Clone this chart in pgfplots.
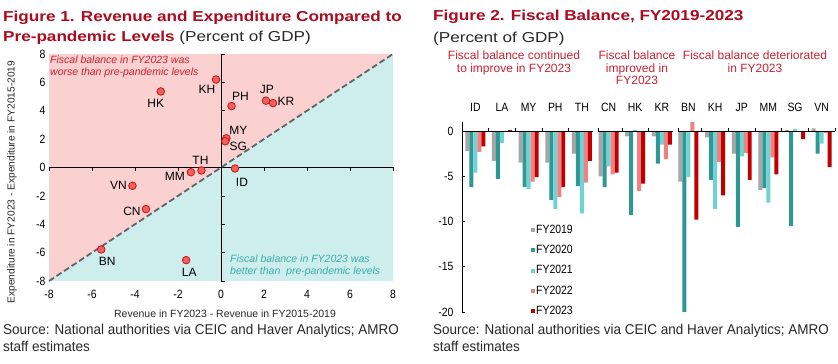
\documentclass[border=0pt]{standalone}
\usepackage{pgfplots}
\pgfplotsset{compat=1.18}
\usepackage{pgfplotstable}
\usepackage{fontspec}
\setmainfont{Liberation Sans}
\newfontfamily\narrow{Liberation Sans}[FakeStretch=0.87]
\newfontfamily\srcfont{Liberation Sans}[FakeStretch=0.95]
\newfontfamily\wide{Liberation Sans}[FakeStretch=1.19]
\definecolor{titlered}{RGB}{172,10,30}
\definecolor{annred}{RGB}{204,32,48}
\definecolor{annteal}{RGB}{58,172,170}
\definecolor{pinkbg}{RGB}{250,208,208}
\definecolor{cyanbg}{RGB}{206,238,238}
\definecolor{mkfill}{RGB}{240,96,96}
\definecolor{mkdraw}{RGB}{200,20,20}
\definecolor{cA}{RGB}{166,166,166}
\definecolor{cB}{RGB}{46,152,150}
\definecolor{cC}{RGB}{112,210,210}
\definecolor{cD}{RGB}{242,128,128}
\definecolor{cE}{RGB}{192,0,0}
\definecolor{txt}{RGB}{40,40,40}

\pgfplotstableread{
x y lbl dx dy
-2.80 5.36 HK -5 -12
-0.23 6.20 KH -9 -10
0.49 4.33 PH 9 10
2.09 4.71 JP 1 11
2.42 4.54 KR 13 2
0.25 2.06 MY 12 8
0.20 1.85 SG 13 -5
-0.91 -0.21 TH -1 10
-1.40 -0.33 MM -16 -4
0.65 -0.07 ID 7 -14
-4.12 -1.29 VN -14 0
-3.49 -2.93 CN -14 -2
-5.57 -5.78 BN 6 -12
-1.62 -6.53 LA 3 -12
}\pts

\begin{document}
\begin{tikzpicture}
\path[use as bounding box] (0,0) rectangle (838pt,364pt);

% ---------- Figure 1 ----------
\begin{axis}[at={(49pt,83pt)}, anchor=south west, scale only axis,
  width=344pt, height=227pt, xmin=-8, xmax=8, ymin=-8, ymax=8,
  xtick={-8,-6,...,8}, ytick={-8,-6,...,8},
  axis line style={draw=none}, major tick length=0pt, clip=false,
  tick label style={font=\narrow\fontsize{12}{14}\selectfont},
  /pgf/number format/assume math mode=true,
  xticklabel style={yshift=-6pt}]
\addplot[draw=none, fill=pinkbg] coordinates {(-8,-8) (-8,8) (8,8)} -- cycle;
\addplot[draw=none, fill=cyanbg] coordinates {(-8,-8) (8,-8) (8,8)} -- cycle;
\draw[black, line width=0.7pt] (axis cs:-8,0) -- (axis cs:8,0);
\draw[black, line width=0.7pt] (axis cs:0,-8) -- (axis cs:0,8);
\pgfplotsinvokeforeach{-8,-6,-4,-2,2,4,6,8}{
  \draw[black, line width=0.7pt] (axis cs:#1,0) -- ([yshift=-4pt]axis cs:#1,0);
  \draw[black, line width=0.7pt] (axis cs:0,#1) -- ([xshift=4pt]axis cs:0,#1);
}
\addplot[draw={rgb,255:red,100;green,100;blue,100}, line width=1.8pt, dash pattern=on 6pt off 3pt] coordinates {(-8,-8) (8,8)};
\addplot[only marks, mark=*, mark size=3.8pt,
  mark options={fill=mkfill, draw=mkdraw, line width=0.8pt},
  point meta=explicit symbolic, nodes near coords,
  visualization depends on={\thisrow{dx}\as\dx},
  visualization depends on={\thisrow{dy}\as\dy},
  nodes near coords style={anchor=center, xshift=\dx, yshift=\dy,
    font=\fontsize{12}{14}\selectfont, text=black, inner sep=0pt}]
  table[x=x, y=y, meta=lbl]{\pts};
\end{axis}

\node[anchor=base west, text=titlered, font=\wide\bfseries\fontsize{14.4}{16}\selectfont, inner sep=0pt] at (3pt,342pt) {Figure 1. Revenue and Expenditure Compared to};
\node[anchor=base west, text=txt, font=\wide\fontsize{14.4}{16}\selectfont, inner sep=0pt] at (3pt,322pt) {\textcolor{titlered}{\bfseries Pre-pandemic Levels} (Percent of GDP)};
\node[anchor=base west, text=annred, font=\itshape\fontsize{10.5}{12}\selectfont, inner sep=0pt] at (50pt,300pt) {Fiscal balance in FY2023 was};
\node[anchor=base west, text=annred, font=\itshape\fontsize{10.5}{12}\selectfont, inner sep=0pt] at (50pt,288pt) {worse than pre-pandemic levels};
\node[anchor=base west, text=annteal, font=\itshape\fontsize{10.5}{12}\selectfont, inner sep=0pt] at (230pt,101pt) {Fiscal balance in FY2023 was};
\node[anchor=base west, text=annteal, font=\itshape\fontsize{10.5}{12}\selectfont, inner sep=0pt] at (230pt,89pt) {better than\ \ pre-pandemic levels};
\node[rotate=90, text=txt, font=\fontsize{10.2}{12}\selectfont, inner sep=0pt] at (12pt,182pt) {Expenditure in FY2023 - Expenditure in FY2015-2019};
\node[text=txt, font=\fontsize{10.5}{12}\selectfont, inner sep=0pt] at (225pt,50pt) {Revenue in FY2023 - Revenue in FY2015-2019};
\node[anchor=base west, text=txt, font=\srcfont\fontsize{14.2}{16}\selectfont, inner sep=0pt] at (3pt,29pt) {Source: National authorities via CEIC and Haver Analytics; AMRO};
\node[anchor=base west, text=txt, font=\srcfont\fontsize{14.2}{16}\selectfont, inner sep=0pt] at (3pt,12pt) {staff estimates};

% ---------- Figure 2 ----------
\begin{axis}[at={(462pt,52pt)}, anchor=south west, scale only axis,
  width=373pt, height=190pt, xmin=-0.5, xmax=13.5, ymin=-20, ymax=1,
  ytick={0,-5,-10,-15,-20}, xtick={0,...,13},
  xticklabels={ID,LA,MY,PH,TH,CN,HK,KR,BN,KH,JP,MM,SG,VN},
  xticklabel pos=upper,
  axis line style={draw=none}, major tick length=0pt, clip=false,
  tick label style={font=\narrow\fontsize{12}{14}\selectfont},
  /pgf/number format/assume math mode=true,
  yticklabel style={xshift=-5pt},
  xticklabel style={anchor=base, yshift=10pt},
  legend style={at={(0.185,0.465)}, anchor=north west, draw=none, fill=none,
    font=\narrow\fontsize{12}{14}\selectfont, row sep=8.5pt, inner sep=0pt,
    nodes={inner sep=1pt}},
  legend cell align=left]
\addplot[ybar, bar width=0.15, bar shift=-0.3, fill=cA, draw=none,
  legend image code/.code={\fill[cA] (0pt,-2pt) rectangle (4pt,2pt);}] coordinates {
 (0,-2.2) (1,-3.3) (2,-3.5) (3,-3.5) (4,-2.5) (5,-5.0) (6,-0.6) (7,-0.6)
 (8,-5.6) (9,-0.7) (10,-2.5) (11,-6.5) (12,0.1) (13,0.3)};
\addlegendentry{FY2019}
\addplot[ybar, bar width=0.15, bar shift=-0.15, fill=cB, draw=none,
  legend image code/.code={\fill[cB] (0pt,-2pt) rectangle (4pt,2pt);}] coordinates {
 (0,-6.2) (1,-5.3) (2,-6.2) (3,-7.6) (4,-6.1) (5,-6.2) (6,-9.3) (7,-3.6)
 (8,-20.0) (9,-5.4) (10,-10.6) (11,-6.3) (12,-10.5) (13,-2.5)};
\addlegendentry{FY2020}
\addplot[ybar, bar width=0.15, bar shift=0, fill=cC, draw=none,
  legend image code/.code={\fill[cC] (0pt,-2pt) rectangle (4pt,2pt);}] coordinates {
 (0,-4.6) (1,-1.3) (2,-6.4) (3,-8.6) (4,-9.1) (5,-3.9) (6,0.1) (7,-1.5)
 (8,-5.1) (9,-8.6) (10,-2.8) (11,-7.9) (12,0.2) (13,-1.4)};
\addlegendentry{FY2021}
\addplot[ybar, bar width=0.15, bar shift=0.15, fill=cD, draw=none,
  legend image code/.code={\fill[cD] (0pt,-2pt) rectangle (4pt,2pt);}] coordinates {
 (0,-2.3) (1,-0.1) (2,-5.6) (3,-7.3) (4,-5.7) (5,-4.8) (6,-6.6) (7,-3.1)
 (8,1.0) (9,-3.4) (10,-2.4) (11,-2.9) (12,0.0) (13,-0.2)};
\addlegendentry{FY2022}
\addplot[ybar, bar width=0.15, bar shift=0.3, fill=cE, draw=none,
  legend image code/.code={\fill[cE] (0pt,-2pt) rectangle (4pt,2pt);}] coordinates {
 (0,-1.7) (1,0.1) (2,-5.1) (3,-6.2) (4,-3.3) (5,-4.6) (6,-5.8) (7,-1.5)
 (8,-9.8) (9,-7.1) (10,-5.4) (11,-4.8) (12,-0.9) (13,-4.0)};
\addlegendentry{FY2023}
\draw[black, line width=0.7pt] (axis cs:-0.5,-20) -- (axis cs:-0.5,1);
\pgfplotsinvokeforeach{0,-5,-10,-15,-20}{
  \draw[black, line width=0.7pt] (axis cs:-0.5,#1) -- ([xshift=3pt]axis cs:-0.5,#1);
}
\draw[black, line width=0.7pt] (axis cs:-0.5,0) -- (axis cs:4.42,0);
\draw[black, line width=0.7pt] (axis cs:4.62,0) -- (axis cs:7.42,0);
\draw[black, line width=0.7pt] (axis cs:7.62,0) -- (axis cs:13.5,0);
\pgfplotsinvokeforeach{0.5,1.5,2.5,3.5,4.62,5.5,6.5,7.62,8.5,9.5,10.5,11.5,12.5,13.5}{
  \draw[black, line width=0.7pt] (axis cs:#1,0) -- ([yshift=3pt]axis cs:#1,0);
}
\end{axis}

\node[anchor=base west, text=titlered, font=\wide\bfseries\fontsize{14.4}{16}\selectfont, inner sep=0pt] at (433pt,343pt) {Figure 2. Fiscal Balance, FY2019-2023};
\node[anchor=base west, text=txt, font=\wide\fontsize{14.4}{16}\selectfont, inner sep=0pt] at (433pt,321pt) {(Percent of GDP)};
\begin{scope}[every node/.style={anchor=base, text=annred, font=\fontsize{12}{14}\selectfont, inner sep=0pt}]
\node at (514pt,304pt) {Fiscal balance continued};
\node at (514pt,291pt) {to improve in FY2023};
\node at (637pt,304pt) {Fiscal balance};
\node at (637pt,291pt) {improved in};
\node at (637pt,279pt) {FY2023};
\node at (755pt,304pt) {Fiscal balance deteriorated};
\node at (755pt,291pt) {in FY2023};
\end{scope}
\node[anchor=base west, text=txt, font=\srcfont\fontsize{14.2}{16}\selectfont, inner sep=0pt] at (433pt,29pt) {Source: National authorities via CEIC and Haver Analytics; AMRO};
\node[anchor=base west, text=txt, font=\srcfont\fontsize{14.2}{16}\selectfont, inner sep=0pt] at (433pt,12pt) {staff estimates};
\end{tikzpicture}
\end{document}
